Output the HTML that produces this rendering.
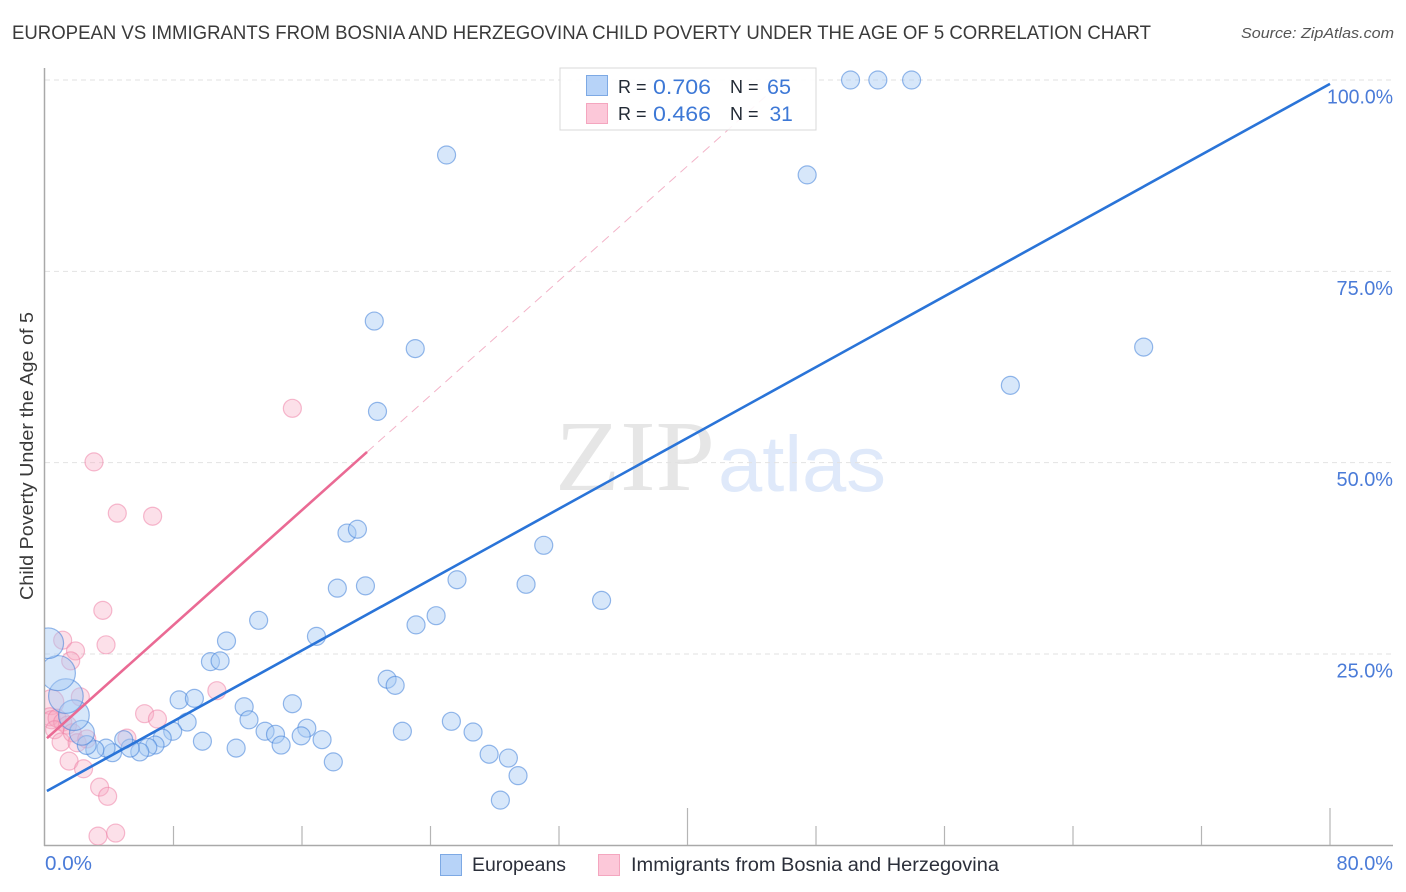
<!DOCTYPE html>
<html lang="en">
<head>
<meta charset="utf-8">
<title>European vs Immigrants from Bosnia and Herzegovina Child Poverty Correlation Chart</title>
<style>
html,body{margin:0;padding:0;background:#fff;}
svg{display:block;font-family:"Liberation Sans",sans-serif;}
</style>
</head>
<body>
<svg id="chart" xmlns="http://www.w3.org/2000/svg" width="1406" height="892" viewBox="0 0 1406 892">
  <defs>
    <clipPath id="plot-clip"><rect x="45" y="60" width="1348" height="785"></rect></clipPath>
  </defs>
  <rect x="0" y="0" width="1406" height="892" fill="#ffffff"></rect>

  <text x="12" y="39" font-size="19.5" fill="#3a3a3a" textLength="1139" lengthAdjust="spacingAndGlyphs">EUROPEAN VS IMMIGRANTS FROM BOSNIA AND HERZEGOVINA CHILD POVERTY UNDER THE AGE OF 5 CORRELATION CHART</text>
  <text x="1394" y="38" font-size="15" font-style="italic" fill="#555555" text-anchor="end" textLength="153" lengthAdjust="spacingAndGlyphs">Source: ZipAtlas.com</text>

  <g>
    <text x="555" y="490" font-family="'Liberation Serif',serif" font-size="101" fill="#e6e6e6" textLength="160" lengthAdjust="spacingAndGlyphs">ZIP</text>
    <text x="718" y="491" font-size="79" fill="#dfe9fa" textLength="168" lengthAdjust="spacingAndGlyphs">atlas</text>
  </g>

  <g id="grid"></g>
  <g id="axes"></g>
  <g id="pink-points" clip-path="url(#plot-clip)"></g>
  <g id="blue-points" clip-path="url(#plot-clip)"></g>
  <g id="trends"></g>
  <g id="tick-labels"></g>

  <text transform="translate(33,456) rotate(-90)" font-size="18.5" fill="#3a3a3a" text-anchor="middle" textLength="288" lengthAdjust="spacingAndGlyphs">Child Poverty Under the Age of 5</text>

  <g>
    <rect x="560" y="68" width="256" height="62" fill="#ffffff" fill-opacity="0.88" stroke="#d8d8d8" stroke-width="1"></rect>
    <rect x="586.5" y="75.5" width="21" height="20" fill="#b7d3f8" stroke="#7da9e4"></rect>
    <rect x="586.5" y="103.5" width="21" height="20" fill="#fcc8d9" stroke="#f4a6bf"></rect>
    <text x="618" y="93" font-size="18" fill="#222a35">R =</text>
    <text x="653" y="94" font-size="21.5" fill="#3d78d6" textLength="58" lengthAdjust="spacingAndGlyphs">0.706</text>
    <text x="730" y="93" font-size="18" fill="#222a35">N =</text>
    <text x="767" y="94" font-size="21.5" fill="#3d78d6" textLength="24" lengthAdjust="spacingAndGlyphs">65</text>
    <text x="618" y="120" font-size="18" fill="#222a35">R =</text>
    <text x="653" y="121" font-size="21.5" fill="#3d78d6" textLength="58" lengthAdjust="spacingAndGlyphs">0.466</text>
    <text x="730" y="120" font-size="18" fill="#222a35">N =</text>
    <text x="769.5" y="121" font-size="21" fill="#3d78d6">31</text>
  </g>

  <g>
    <g>
      <rect x="440.5" y="854.5" width="21" height="21" fill="#b7d3f8" stroke="#7da9e4"></rect>
      <text x="472" y="871" font-size="19" fill="#2b2f3a" textLength="94" lengthAdjust="spacingAndGlyphs">Europeans</text>
    </g>
    <g>
      <rect x="598.5" y="854.5" width="21" height="21" fill="#fcc8d9" stroke="#f4a6bf"></rect>
      <text x="631" y="871" font-size="19" fill="#2b2f3a" textLength="368" lengthAdjust="spacingAndGlyphs">Immigrants from Bosnia and Herzegovina</text>
    </g>
  </g>
</svg>
<script>
const xTickValues = [0, 8, 16, 24, 32, 40, 48, 56, 64, 72, 80];
const yTickValues = [25, 50, 75, 100];
const yTickLabels = ["25.0%", "50.0%", "75.0%", "100.0%"];
const xEndValues = [0, 80];
const xEndLabels = ["0.0%", "80.0%"];

const europeansX = [50.15, 51.85, 53.95, 25.0, 47.45, 20.5, 23.05, 68.4, 60.1, 20.7, 18.8, 19.45, 31.05, 25.65, 29.95, 18.2, 19.95, 34.65, 24.35, 23.1, 13.3, 16.9, 11.3, 10.3, 10.9, 21.3, 21.8, 15.4, 8.35, 9.3, 12.4, 12.7, 8.85, 25.3, 26.65, 22.25, 16.3, 13.7, 14.35, 15.95, 17.25, 14.7, 7.95, 9.8, 11.9, 27.65, 28.85, 17.95, 29.45, 28.35, 7.3, 6.85, 6.4, 5.9, 5.3, 4.9, 4.2, 3.8, 3.1, 2.6, 2.3, 1.8, 1.3, 0.8, 0.2];
const europeansY = [100, 100, 100, 90.2, 87.6, 68.5, 64.9, 65.1, 60.1, 56.7, 40.8, 41.3, 39.2, 34.7, 34.1, 33.6, 33.9, 32.0, 30.0, 28.8, 29.4, 27.3, 26.7, 24.0, 24.1, 21.7, 20.9, 18.5, 19.0, 19.2, 18.1, 16.4, 16.1, 16.2, 14.8, 14.9, 15.3, 14.9, 14.5, 14.3, 13.8, 13.1, 14.9, 13.6, 12.7, 11.9, 11.4, 10.9, 9.1, 5.9, 14.0, 13.1, 12.8, 12.2, 12.7, 13.8, 12.1, 12.7, 12.5, 13.1, 14.7, 17.0, 19.5, 22.5, 26.4];
const europeansWeight = [1, 1, 1, 1, 1, 1, 1, 1, 1, 1, 1, 1, 1, 1, 1, 1, 1, 1, 1, 1, 1, 1, 1, 1, 1, 1, 1, 1, 1, 1, 1, 1, 1, 1, 1, 1, 1, 1, 1, 1, 1, 1, 1, 1, 1, 1, 1, 1, 1, 1, 1, 1, 1, 1, 1, 1, 1, 1, 1, 1.1, 1.9, 2.9, 3.7, 3.8, 2.9];

const immigrantsX = [15.4, 3.05, 4.5, 6.7, 3.6, 3.8, 1.1, 1.9, 1.6, 2.2, 10.7, 6.2, 7.0, 5.1, 1.5, 2.4, 3.4, 3.9, 3.3, 4.4, 0.4, 0.3, 0.4, 0.75, 1.1, 1.4, 0.6, 1.0, 1.7, 2.0, 2.6];
const immigrantsY = [57.1, 50.1, 43.4, 43.0, 30.7, 26.2, 26.8, 25.4, 24.1, 19.4, 20.2, 17.2, 16.5, 14.0, 11.0, 10.0, 7.6, 6.4, 1.2, 1.6, 18.7, 16.8, 16.4, 16.6, 16.1, 15.7, 15.1, 13.5, 14.7, 13.4, 13.9];
const immigrantsWeight = [1, 1, 1, 1, 1, 1, 1, 1, 1, 1, 1, 1, 1, 1, 1, 1, 1, 1, 1, 1, 1.9, 1, 1, 1, 1, 1, 1, 1, 1, 1, 1];

const europeansTrendX = [0.12, 80];
const europeansTrendY = [7.1, 99.5];
const immigrantsTrendX = [0.12, 20.05];
const immigrantsTrendY = [14.0, 51.4];
const immigrantsForecastX = [20.05, 46];
const immigrantsForecastY = [51.4, 100];

const SVG_NS = "http://www.w3.org/2000/svg";
function xScale(v) { return 45 + v * (1285 / 80); }
function yScale(v) { return 845.3 - v * 7.653; }
function bubbleRadius(w) { return 9 * Math.sqrt(w); }
function labelWidth(s) { return 9.5 * s.length + 9; }
function make(tag, attrs, parentId) {
  const node = document.createElementNS(SVG_NS, tag);
  Object.keys(attrs).forEach(function (k) { node.setAttribute(k, attrs[k]); });
  document.getElementById(parentId).appendChild(node);
  return node;
}

yTickValues.forEach(function (v) {
  const el = make("line", { x1: 45, x2: 1393, y1: yScale(v), y2: yScale(v), stroke: "#e2e2e2", "stroke-width": 1, "stroke-dasharray": "5 4" }, "grid");
  
  
});

const yAxisLine = make("line", { x1: 44.5, x2: 44.5, y1: 68, y2: 846, stroke: "#a9a9a9", "stroke-width": 1.5 }, "axes");


const xAxisLine = make("line", { x1: 44, x2: 1393, y1: 845.5, y2: 845.5, stroke: "#a9a9a9", "stroke-width": 1.5 }, "axes");



xTickValues.forEach(function (v) {
  if (v === 0) { return; }
  const tall = v === 40 || v === 80;
  const el = make("line", { x1: xScale(v), x2: xScale(v), y1: tall ? 808 : 826, y2: 845, stroke: "#b5b5b5", "stroke-width": 1.2 }, "axes");
  
  
});

immigrantsX.forEach(function (v, i) {
  const el = make("circle", { cx: xScale(v), cy: yScale(immigrantsY[i]), r: bubbleRadius(immigrantsWeight[i]), fill: "#f7a8c2", "fill-opacity": 0.36, stroke: "#ee84a8", "stroke-opacity": 0.55, "stroke-width": 1.2 }, "pink-points");
  
  
});

europeansX.forEach(function (v, i) {
  const el = make("circle", { cx: xScale(v), cy: yScale(europeansY[i]), r: bubbleRadius(europeansWeight[i]), fill: "#a6c9f5", "fill-opacity": 0.45, stroke: "#3f7fd8", "stroke-opacity": 0.55, "stroke-width": 1.2 }, "blue-points");
  
  
});

const forecast = make("line", { x1: xScale(immigrantsForecastX[0]), y1: yScale(immigrantsForecastY[0]), x2: xScale(immigrantsForecastX[1]), y2: yScale(immigrantsForecastY[1]), stroke: "#f3b3c8", "stroke-width": 1, "stroke-dasharray": "9 6" }, "trends");


const pinkTrend = make("line", { x1: xScale(immigrantsTrendX[0]), y1: yScale(immigrantsTrendY[0]), x2: xScale(immigrantsTrendX[1]), y2: yScale(immigrantsTrendY[1]), stroke: "#ea6a94", "stroke-width": 2.6 }, "trends");


const blueTrend = make("line", { x1: xScale(europeansTrendX[0]), y1: yScale(europeansTrendY[0]), x2: xScale(europeansTrendX[1]), y2: yScale(europeansTrendY[1]), stroke: "#2a74d8", "stroke-width": 2.6 }, "trends");



yTickValues.forEach(function (v, i) {
  const el = make("text", { x: 1393, y: yScale(v) + 23.5, "font-size": 20, fill: "#4a7bd8", "text-anchor": "end", textLength: labelWidth(yTickLabels[i]), lengthAdjust: "spacingAndGlyphs" }, "tick-labels");
  el.textContent = yTickLabels[i];
  
  
});

xEndValues.forEach(function (v, i) {
  const el = make("text", { x: i === 0 ? xScale(v) : 1393, y: 870, "font-size": 20, fill: "#4a7bd8", "text-anchor": i === 0 ? "start" : "end", textLength: labelWidth(xEndLabels[i]), lengthAdjust: "spacingAndGlyphs" }, "tick-labels");
  el.textContent = xEndLabels[i];
  
  
});
</script>
</body>
</html>
